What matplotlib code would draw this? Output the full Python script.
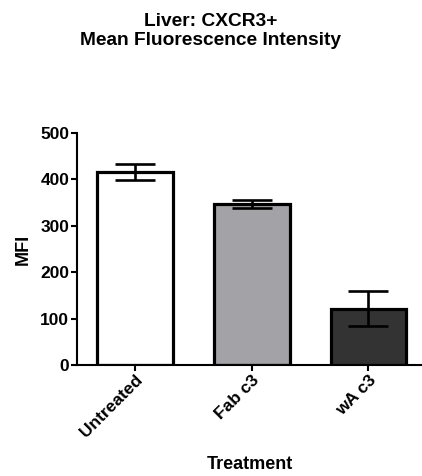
import matplotlib
matplotlib.use("Agg")
import matplotlib.pyplot as plt

categories = ["Untreated", "Fab c3", "wA c3"]
values = [416, 347, 121]
errors = [18, 9.5, 38]
colors = ["#FFFFFF", "#A3A3A7", "#333333"]
yticks = [0, 100, 200, 300, 400, 500]

plt.rcParams['font.family'] = ['Liberation Sans', 'DejaVu Sans']
plt.rcParams['font.weight'] = 'bold'

W, H = 422, 476
fig = plt.figure(figsize=(W/100, H/100), dpi=100)
ax = fig.add_axes([77/W, (H-365)/H, (W-77)/W, 232/H])

x = list(range(len(categories)))
ax.bar(x, values, width=0.65, color=colors, edgecolor='black', linewidth=2.3, zorder=2)
ax.errorbar(x, values, yerr=errors, fmt='none', ecolor='black', elinewidth=1.9,
            capsize=14.4, capthick=1.9, zorder=3)

ax.set_xlim(-0.5, 2.46)
ax.set_ylim(0, 500)
ax.set_yticks(yticks)
ax.set_xticks(x)
ax.set_xticklabels(categories, rotation=45, ha='right', rotation_mode='anchor',
                   fontsize=12.5, fontweight='bold')
for lab in ax.get_yticklabels():
    lab.set_fontsize(12.5)
    lab.set_fontweight('bold')
ax.spines['top'].set_visible(False)
ax.spines['right'].set_visible(False)
ax.spines['left'].set_linewidth(1.5)
ax.spines['bottom'].set_linewidth(1.5)
ax.tick_params(axis='both', direction='out', length=4, width=1.5, pad=1.5)
ax.set_ylabel("MFI", fontsize=13, fontweight='bold', labelpad=6)
ax.set_xlabel("Treatment", fontsize=13, fontweight='bold', labelpad=11)

fig.text(211/W, 1 - 31/H, "Liver: CXCR3+\nMean Fluorescence Intensity", ha='center', va='center',
         fontsize=13.8, fontweight='bold', linespacing=1.2)

fig.savefig("out.png", dpi=100)
